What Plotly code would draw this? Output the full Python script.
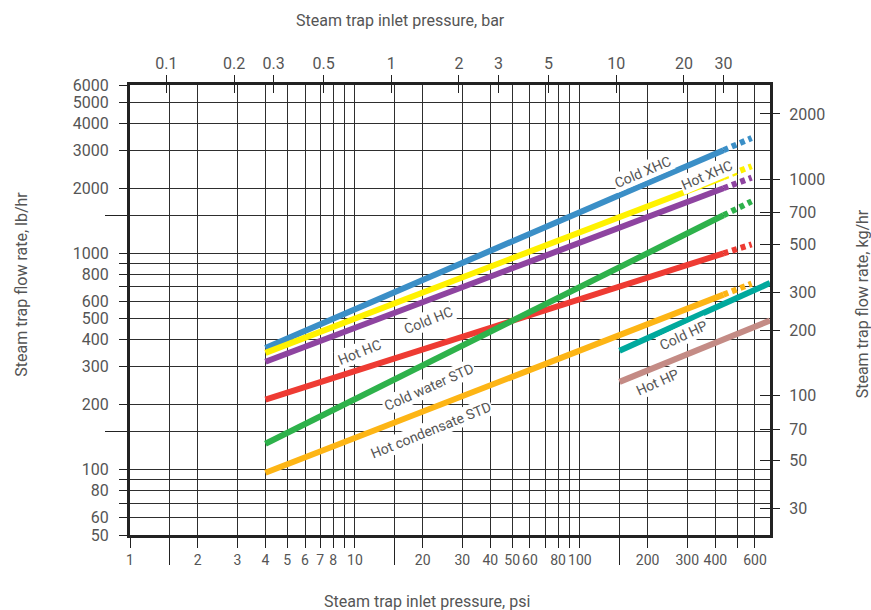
import math

import plotly.graph_objects as go

PSI_PER_BAR = 14.5038
KG_PER_LB = 0.45359

# Flow curves, lb/hr vs psi. Three-point curves: solid to the 2nd point, dotted to the 3rd.
cold_xhc_psi = [4, 435, 580]
cold_xhc_lbhr = [366, 3000, 3410]
hot_xhc_psi = [4, 435, 580]
hot_xhc_lbhr = [347, 2250, 2530]
cold_hc_psi = [4, 435, 580]
cold_hc_lbhr = [316, 2000, 2240]
hot_hc_psi = [4, 435, 580]
hot_hc_lbhr = [211, 1000, 1100]
cold_std_psi = [4, 435, 580]
cold_std_lbhr = [132, 1500, 1740]
hot_std_psi = [4, 435, 580]
hot_std_lbhr = [97, 645, 725]
cold_hp_psi = [150, 700]
cold_hp_lbhr = [355, 730]
hot_hp_psi = [150, 700]
hot_hp_lbhr = [255, 490]

# Curve labels: text, psi, lb/hr, angle
label_text = ["Cold XHC", "Hot XHC", "Cold HC", "Hot HC", "Cold water STD",
              "Hot condensate STD", "Cold HP", "Hot HP"]
label_psi = [190, 367, 21.3, 10.5, 21.3, 21.8, 290, 222]
label_lbhr = [2370, 2300, 490, 350, 241, 152, 420, 254]
label_angle = [-23, -23, -22, -22, -24, -22, -25, -24]

psi_ticks = [1, 2, 3, 4, 5, 6, 7, 8, 9, 10, 20, 30, 40, 50, 60, 70, 80, 90,
             100, 200, 300, 400, 500, 600]
psi_ticktext = ["1", "2", "3", "4", "5", "6", "7", "8", "", "10", "20", "30", "40",
                "50", "60", "", "80", "", "100", "200", "300", "400", "", "600"]
psi_long_ticks = [1.5, 15, 150]

lb_ticks = [50, 60, 70, 80, 90, 100, 200, 300, 400, 500, 600, 700, 800, 900,
            1000, 2000, 3000, 4000, 5000, 6000]
lb_ticktext = ["50", "60", "", "80", "", "100", "200", "300", "400", "500", "600",
               "", "800", "", "1000", "2000", "3000", "4000", "5000", "6000"]
lb_long_ticks = [150, 1500]

bar_ticks = [0.1, 0.2, 0.3, 0.5, 1, 2, 3, 5, 10, 20, 30]
kg_ticks = [30, 50, 70, 100, 200, 300, 500, 700, 1000, 2000]

_COLORS = ["#3B8FC7", "#FFF200", "#8E44A0", "#EE3B33", "#2EB24B", "#FDB515",
           "#00A99D", "#C48B85"]
_TEXT = "#555555"
_GRID = "#2e2e2e"
_AXIS = "#222222"
_FONT = "Roboto, Arial, sans-serif"

curves = [
    (cold_xhc_psi, cold_xhc_lbhr), (hot_xhc_psi, hot_xhc_lbhr),
    (cold_hc_psi, cold_hc_lbhr), (hot_hc_psi, hot_hc_lbhr),
    (cold_std_psi, cold_std_lbhr), (hot_std_psi, hot_std_lbhr),
    (cold_hp_psi, cold_hp_lbhr), (hot_hp_psi, hot_hp_lbhr),
]

x_range = [0, math.log10(700)]
y_range = [math.log10(50), math.log10(6000)]
kg_range = [math.log10(50 * KG_PER_LB), math.log10(6000 * KG_PER_LB)]

fig = go.Figure()
for (psi, flow), color in zip(curves, _COLORS):
    fig.add_trace(go.Scatter(x=psi[:2], y=flow[:2], mode="lines",
                             line={"color": color, "width": 6}, hoverinfo="skip"))
    if len(psi) > 2:
        fig.add_trace(go.Scatter(x=psi[1:], y=flow[1:], mode="lines",
                                 line={"color": color, "width": 6, "dash": "5px,4px"},
                                 hoverinfo="skip"))

# invisible carriers so the secondary (bar / kg/hr) axes get drawn
for xa, ya, ys in [("x2", "y", cold_xhc_lbhr), ("x3", "y", cold_xhc_lbhr),
                   ("x", "y2", [v * KG_PER_LB for v in cold_xhc_lbhr]),
                   ("x", "y3", [v * KG_PER_LB for v in cold_xhc_lbhr])]:
    fig.add_trace(go.Scatter(x=cold_xhc_psi, y=ys, xaxis=xa, yaxis=ya, mode="lines",
                             line={"width": 0}, opacity=0, hoverinfo="skip"))

for text, x, y, ang in zip(label_text, label_psi, label_lbhr, label_angle):
    fig.add_annotation(x=math.log10(x), y=math.log10(y), text=text, showarrow=False,
                       textangle=ang, bgcolor="white", borderpad=1,
                       font={"size": 14, "color": _TEXT, "family": _FONT})

axis_common = {"type": "log", "zeroline": False, "tickcolor": _AXIS, "tickwidth": 1.3,
               "tickfont": {"size": 16, "color": _TEXT, "family": _FONT},
               "tickangle": 0, "fixedrange": True}

fig.update_layout(
    width=871, height=610,
    margin={"l": 130, "r": 101, "t": 85, "b": 75},
    paper_bgcolor="white", plot_bgcolor="white",
    showlegend=False,
    font={"family": _FONT, "color": _TEXT},
    xaxis={**axis_common, "range": x_range, "tickmode": "array", "tickvals": psi_ticks,
           "ticktext": psi_ticktext, "ticks": "outside", "ticklen": 10,
           "tickfont": {"size": 14, "color": _TEXT, "family": _FONT},
           "showgrid": True, "gridcolor": _GRID, "gridwidth": 1,
           "showline": True, "linecolor": _AXIS, "linewidth": 3, "mirror": True,
           "minor": {"tickmode": "array", "tickvals": psi_long_ticks, "ticks": "outside",
                     "ticklen": 27, "tickcolor": _AXIS, "tickwidth": 1.3,
                     "showgrid": True, "gridcolor": _GRID, "gridwidth": 1}},
    yaxis={**axis_common, "range": y_range, "tickmode": "array", "tickvals": lb_ticks,
           "ticktext": lb_ticktext, "ticks": "outside", "ticklen": 8,
           "ticklabelstandoff": 7,
           "showgrid": True, "gridcolor": _GRID, "gridwidth": 1,
           "showline": True, "linecolor": _AXIS, "linewidth": 3, "mirror": True,
           "minor": {"tickmode": "array", "tickvals": lb_long_ticks, "ticks": "outside",
                     "ticklen": 22, "tickcolor": _AXIS, "tickwidth": 1.3,
                     "showgrid": True, "gridcolor": _GRID, "gridwidth": 1}},
    xaxis2={**axis_common, "overlaying": "x", "side": "top", "anchor": "y",
            "range": x_range, "tickmode": "array",
            "tickvals": [b * PSI_PER_BAR for b in bar_ticks],
            "ticktext": [str(b) for b in bar_ticks], "ticks": "outside", "ticklen": 9,
            "showgrid": False, "showline": False},
    xaxis3={**axis_common, "overlaying": "x", "side": "top", "anchor": "y",
            "range": x_range, "tickmode": "array",
            "tickvals": [b * PSI_PER_BAR for b in bar_ticks], "ticks": "inside",
            "ticklen": 8, "showticklabels": False, "showgrid": False, "showline": False},
    yaxis2={**axis_common, "overlaying": "y", "side": "right", "anchor": "x",
            "range": kg_range, "tickmode": "array", "tickvals": kg_ticks,
            "ticks": "outside", "ticklen": 9, "ticklabelstandoff": 6,
            "showgrid": False, "showline": False},
    yaxis3={**axis_common, "overlaying": "y", "side": "right", "anchor": "x",
            "range": kg_range, "tickmode": "array", "tickvals": kg_ticks,
            "ticks": "inside", "ticklen": 10, "showticklabels": False,
            "showgrid": False, "showline": False},
)

title_font = {"size": 16, "color": _TEXT, "family": _FONT}
titles = [
    ("Steam trap inlet pressure, bar", 0.422, 1.144, 0),
    ("Steam trap inlet pressure, psi", 0.464, -0.147, 0),
    ("Steam trap flow rate, lb/hr", -0.169, 0.558, -90),
    ("Steam trap flow rate, kg/hr", 1.144, 0.513, -90),
]
for text, x, y, ang in titles:
    fig.add_annotation(text=text, xref="paper", yref="paper", x=x, y=y,
                       xanchor="center", yanchor="middle", textangle=ang,
                       showarrow=False, font=title_font)

# drop the browser's default body margin so the 871x610 figure fills the window
fig.write_html("out.html",
               config={"displayModeBar": False},
               post_script="document.body.style.margin='0';"
                           "document.body.style.overflow='hidden';")
